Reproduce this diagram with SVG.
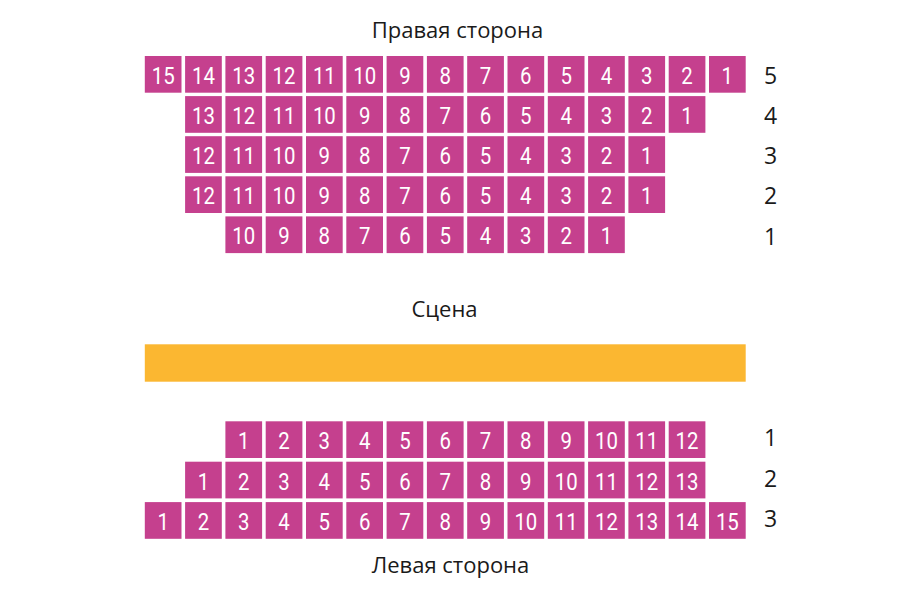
<svg xmlns="http://www.w3.org/2000/svg" width="900" height="590" viewBox="0 0 900 590">
<style>
.s{fill:#C5408E}
.n{font-family:Roboto,"Open Sans",sans-serif;font-weight:400;font-size:24px;fill:#fff;text-anchor:middle}
.t{font-family:"Open Sans","Noto Sans",sans-serif;font-size:22px;fill:#1a1a1a;text-anchor:middle}
.l{font-family:"Open Sans","Noto Sans",sans-serif;font-size:23px;fill:#1a1a1a;text-anchor:middle}
</style>
<defs>
<rect id="seat" class="s" width="36.7" height="36.7"/>
</defs>
<rect width="900" height="590" fill="#fff"/>
<g id="titles">
<text class="t" x="457.5" y="38.3">Правая сторона</text>
<text class="t" x="444.5" y="317.3">Сцена</text>
<text class="t" x="450.5" y="572.7">Левая сторона</text>
</g>
<g id="stage"><rect x="144.8" y="344.3" width="600.9" height="37.4" fill="#FBB731"/></g>
<g id="right-row5">
<g id="r5s15" transform="translate(144.8 56)"><use href="#seat"/><text class="n" x="21.6" y="28" transform="scale(0.85 1)">15</text></g>
<g id="r5s14" transform="translate(185.1 56)"><use href="#seat"/><text class="n" x="21.6" y="28" transform="scale(0.85 1)">14</text></g>
<g id="r5s13" transform="translate(225.4 56)"><use href="#seat"/><text class="n" x="21.6" y="28" transform="scale(0.85 1)">13</text></g>
<g id="r5s12" transform="translate(265.7 56)"><use href="#seat"/><text class="n" x="21.6" y="28" transform="scale(0.85 1)">12</text></g>
<g id="r5s11" transform="translate(306 56)"><use href="#seat"/><text class="n" x="21.6" y="28" transform="scale(0.85 1)">11</text></g>
<g id="r5s10" transform="translate(346.3 56)"><use href="#seat"/><text class="n" x="21.6" y="28" transform="scale(0.85 1)">10</text></g>
<g id="r5s9" transform="translate(386.6 56)"><use href="#seat"/><text class="n" x="21.6" y="28" transform="scale(0.85 1)">9</text></g>
<g id="r5s8" transform="translate(426.9 56)"><use href="#seat"/><text class="n" x="21.6" y="28" transform="scale(0.85 1)">8</text></g>
<g id="r5s7" transform="translate(467.2 56)"><use href="#seat"/><text class="n" x="21.6" y="28" transform="scale(0.85 1)">7</text></g>
<g id="r5s6" transform="translate(507.5 56)"><use href="#seat"/><text class="n" x="21.6" y="28" transform="scale(0.85 1)">6</text></g>
<g id="r5s5" transform="translate(547.8 56)"><use href="#seat"/><text class="n" x="21.6" y="28" transform="scale(0.85 1)">5</text></g>
<g id="r5s4" transform="translate(588.1 56)"><use href="#seat"/><text class="n" x="21.6" y="28" transform="scale(0.85 1)">4</text></g>
<g id="r5s3" transform="translate(628.4 56)"><use href="#seat"/><text class="n" x="21.6" y="28" transform="scale(0.85 1)">3</text></g>
<g id="r5s2" transform="translate(668.7 56)"><use href="#seat"/><text class="n" x="21.6" y="28" transform="scale(0.85 1)">2</text></g>
<g id="r5s1" transform="translate(709 56)"><use href="#seat"/><text class="n" x="21.6" y="28" transform="scale(0.85 1)">1</text></g>
</g>
<g id="right-row4">
<g id="r4s13" transform="translate(185.1 96.1)"><use href="#seat"/><text class="n" x="21.6" y="28" transform="scale(0.85 1)">13</text></g>
<g id="r4s12" transform="translate(225.4 96.1)"><use href="#seat"/><text class="n" x="21.6" y="28" transform="scale(0.85 1)">12</text></g>
<g id="r4s11" transform="translate(265.7 96.1)"><use href="#seat"/><text class="n" x="21.6" y="28" transform="scale(0.85 1)">11</text></g>
<g id="r4s10" transform="translate(306 96.1)"><use href="#seat"/><text class="n" x="21.6" y="28" transform="scale(0.85 1)">10</text></g>
<g id="r4s9" transform="translate(346.3 96.1)"><use href="#seat"/><text class="n" x="21.6" y="28" transform="scale(0.85 1)">9</text></g>
<g id="r4s8" transform="translate(386.6 96.1)"><use href="#seat"/><text class="n" x="21.6" y="28" transform="scale(0.85 1)">8</text></g>
<g id="r4s7" transform="translate(426.9 96.1)"><use href="#seat"/><text class="n" x="21.6" y="28" transform="scale(0.85 1)">7</text></g>
<g id="r4s6" transform="translate(467.2 96.1)"><use href="#seat"/><text class="n" x="21.6" y="28" transform="scale(0.85 1)">6</text></g>
<g id="r4s5" transform="translate(507.5 96.1)"><use href="#seat"/><text class="n" x="21.6" y="28" transform="scale(0.85 1)">5</text></g>
<g id="r4s4" transform="translate(547.8 96.1)"><use href="#seat"/><text class="n" x="21.6" y="28" transform="scale(0.85 1)">4</text></g>
<g id="r4s3" transform="translate(588.1 96.1)"><use href="#seat"/><text class="n" x="21.6" y="28" transform="scale(0.85 1)">3</text></g>
<g id="r4s2" transform="translate(628.4 96.1)"><use href="#seat"/><text class="n" x="21.6" y="28" transform="scale(0.85 1)">2</text></g>
<g id="r4s1" transform="translate(668.7 96.1)"><use href="#seat"/><text class="n" x="21.6" y="28" transform="scale(0.85 1)">1</text></g>
</g>
<g id="right-row3">
<g id="r3s12" transform="translate(185.1 136.2)"><use href="#seat"/><text class="n" x="21.6" y="28" transform="scale(0.85 1)">12</text></g>
<g id="r3s11" transform="translate(225.4 136.2)"><use href="#seat"/><text class="n" x="21.6" y="28" transform="scale(0.85 1)">11</text></g>
<g id="r3s10" transform="translate(265.7 136.2)"><use href="#seat"/><text class="n" x="21.6" y="28" transform="scale(0.85 1)">10</text></g>
<g id="r3s9" transform="translate(306 136.2)"><use href="#seat"/><text class="n" x="21.6" y="28" transform="scale(0.85 1)">9</text></g>
<g id="r3s8" transform="translate(346.3 136.2)"><use href="#seat"/><text class="n" x="21.6" y="28" transform="scale(0.85 1)">8</text></g>
<g id="r3s7" transform="translate(386.6 136.2)"><use href="#seat"/><text class="n" x="21.6" y="28" transform="scale(0.85 1)">7</text></g>
<g id="r3s6" transform="translate(426.9 136.2)"><use href="#seat"/><text class="n" x="21.6" y="28" transform="scale(0.85 1)">6</text></g>
<g id="r3s5" transform="translate(467.2 136.2)"><use href="#seat"/><text class="n" x="21.6" y="28" transform="scale(0.85 1)">5</text></g>
<g id="r3s4" transform="translate(507.5 136.2)"><use href="#seat"/><text class="n" x="21.6" y="28" transform="scale(0.85 1)">4</text></g>
<g id="r3s3" transform="translate(547.8 136.2)"><use href="#seat"/><text class="n" x="21.6" y="28" transform="scale(0.85 1)">3</text></g>
<g id="r3s2" transform="translate(588.1 136.2)"><use href="#seat"/><text class="n" x="21.6" y="28" transform="scale(0.85 1)">2</text></g>
<g id="r3s1" transform="translate(628.4 136.2)"><use href="#seat"/><text class="n" x="21.6" y="28" transform="scale(0.85 1)">1</text></g>
</g>
<g id="right-row2">
<g id="r2s12" transform="translate(185.1 176.3)"><use href="#seat"/><text class="n" x="21.6" y="28" transform="scale(0.85 1)">12</text></g>
<g id="r2s11" transform="translate(225.4 176.3)"><use href="#seat"/><text class="n" x="21.6" y="28" transform="scale(0.85 1)">11</text></g>
<g id="r2s10" transform="translate(265.7 176.3)"><use href="#seat"/><text class="n" x="21.6" y="28" transform="scale(0.85 1)">10</text></g>
<g id="r2s9" transform="translate(306 176.3)"><use href="#seat"/><text class="n" x="21.6" y="28" transform="scale(0.85 1)">9</text></g>
<g id="r2s8" transform="translate(346.3 176.3)"><use href="#seat"/><text class="n" x="21.6" y="28" transform="scale(0.85 1)">8</text></g>
<g id="r2s7" transform="translate(386.6 176.3)"><use href="#seat"/><text class="n" x="21.6" y="28" transform="scale(0.85 1)">7</text></g>
<g id="r2s6" transform="translate(426.9 176.3)"><use href="#seat"/><text class="n" x="21.6" y="28" transform="scale(0.85 1)">6</text></g>
<g id="r2s5" transform="translate(467.2 176.3)"><use href="#seat"/><text class="n" x="21.6" y="28" transform="scale(0.85 1)">5</text></g>
<g id="r2s4" transform="translate(507.5 176.3)"><use href="#seat"/><text class="n" x="21.6" y="28" transform="scale(0.85 1)">4</text></g>
<g id="r2s3" transform="translate(547.8 176.3)"><use href="#seat"/><text class="n" x="21.6" y="28" transform="scale(0.85 1)">3</text></g>
<g id="r2s2" transform="translate(588.1 176.3)"><use href="#seat"/><text class="n" x="21.6" y="28" transform="scale(0.85 1)">2</text></g>
<g id="r2s1" transform="translate(628.4 176.3)"><use href="#seat"/><text class="n" x="21.6" y="28" transform="scale(0.85 1)">1</text></g>
</g>
<g id="right-row1">
<g id="r1s10" transform="translate(225.4 216.4)"><use href="#seat"/><text class="n" x="21.6" y="28" transform="scale(0.85 1)">10</text></g>
<g id="r1s9" transform="translate(265.7 216.4)"><use href="#seat"/><text class="n" x="21.6" y="28" transform="scale(0.85 1)">9</text></g>
<g id="r1s8" transform="translate(306 216.4)"><use href="#seat"/><text class="n" x="21.6" y="28" transform="scale(0.85 1)">8</text></g>
<g id="r1s7" transform="translate(346.3 216.4)"><use href="#seat"/><text class="n" x="21.6" y="28" transform="scale(0.85 1)">7</text></g>
<g id="r1s6" transform="translate(386.6 216.4)"><use href="#seat"/><text class="n" x="21.6" y="28" transform="scale(0.85 1)">6</text></g>
<g id="r1s5" transform="translate(426.9 216.4)"><use href="#seat"/><text class="n" x="21.6" y="28" transform="scale(0.85 1)">5</text></g>
<g id="r1s4" transform="translate(467.2 216.4)"><use href="#seat"/><text class="n" x="21.6" y="28" transform="scale(0.85 1)">4</text></g>
<g id="r1s3" transform="translate(507.5 216.4)"><use href="#seat"/><text class="n" x="21.6" y="28" transform="scale(0.85 1)">3</text></g>
<g id="r1s2" transform="translate(547.8 216.4)"><use href="#seat"/><text class="n" x="21.6" y="28" transform="scale(0.85 1)">2</text></g>
<g id="r1s1" transform="translate(588.1 216.4)"><use href="#seat"/><text class="n" x="21.6" y="28" transform="scale(0.85 1)">1</text></g>
</g>
<g id="left-row1">
<g id="l1s1" transform="translate(225.4 421.3)"><use href="#seat"/><text class="n" x="21.6" y="28" transform="scale(0.85 1)">1</text></g>
<g id="l1s2" transform="translate(265.7 421.3)"><use href="#seat"/><text class="n" x="21.6" y="28" transform="scale(0.85 1)">2</text></g>
<g id="l1s3" transform="translate(306 421.3)"><use href="#seat"/><text class="n" x="21.6" y="28" transform="scale(0.85 1)">3</text></g>
<g id="l1s4" transform="translate(346.3 421.3)"><use href="#seat"/><text class="n" x="21.6" y="28" transform="scale(0.85 1)">4</text></g>
<g id="l1s5" transform="translate(386.6 421.3)"><use href="#seat"/><text class="n" x="21.6" y="28" transform="scale(0.85 1)">5</text></g>
<g id="l1s6" transform="translate(426.9 421.3)"><use href="#seat"/><text class="n" x="21.6" y="28" transform="scale(0.85 1)">6</text></g>
<g id="l1s7" transform="translate(467.2 421.3)"><use href="#seat"/><text class="n" x="21.6" y="28" transform="scale(0.85 1)">7</text></g>
<g id="l1s8" transform="translate(507.5 421.3)"><use href="#seat"/><text class="n" x="21.6" y="28" transform="scale(0.85 1)">8</text></g>
<g id="l1s9" transform="translate(547.8 421.3)"><use href="#seat"/><text class="n" x="21.6" y="28" transform="scale(0.85 1)">9</text></g>
<g id="l1s10" transform="translate(588.1 421.3)"><use href="#seat"/><text class="n" x="21.6" y="28" transform="scale(0.85 1)">10</text></g>
<g id="l1s11" transform="translate(628.4 421.3)"><use href="#seat"/><text class="n" x="21.6" y="28" transform="scale(0.85 1)">11</text></g>
<g id="l1s12" transform="translate(668.7 421.3)"><use href="#seat"/><text class="n" x="21.6" y="28" transform="scale(0.85 1)">12</text></g>
</g>
<g id="left-row2">
<g id="l2s1" transform="translate(185.1 461.7)"><use href="#seat"/><text class="n" x="21.6" y="28" transform="scale(0.85 1)">1</text></g>
<g id="l2s2" transform="translate(225.4 461.7)"><use href="#seat"/><text class="n" x="21.6" y="28" transform="scale(0.85 1)">2</text></g>
<g id="l2s3" transform="translate(265.7 461.7)"><use href="#seat"/><text class="n" x="21.6" y="28" transform="scale(0.85 1)">3</text></g>
<g id="l2s4" transform="translate(306 461.7)"><use href="#seat"/><text class="n" x="21.6" y="28" transform="scale(0.85 1)">4</text></g>
<g id="l2s5" transform="translate(346.3 461.7)"><use href="#seat"/><text class="n" x="21.6" y="28" transform="scale(0.85 1)">5</text></g>
<g id="l2s6" transform="translate(386.6 461.7)"><use href="#seat"/><text class="n" x="21.6" y="28" transform="scale(0.85 1)">6</text></g>
<g id="l2s7" transform="translate(426.9 461.7)"><use href="#seat"/><text class="n" x="21.6" y="28" transform="scale(0.85 1)">7</text></g>
<g id="l2s8" transform="translate(467.2 461.7)"><use href="#seat"/><text class="n" x="21.6" y="28" transform="scale(0.85 1)">8</text></g>
<g id="l2s9" transform="translate(507.5 461.7)"><use href="#seat"/><text class="n" x="21.6" y="28" transform="scale(0.85 1)">9</text></g>
<g id="l2s10" transform="translate(547.8 461.7)"><use href="#seat"/><text class="n" x="21.6" y="28" transform="scale(0.85 1)">10</text></g>
<g id="l2s11" transform="translate(588.1 461.7)"><use href="#seat"/><text class="n" x="21.6" y="28" transform="scale(0.85 1)">11</text></g>
<g id="l2s12" transform="translate(628.4 461.7)"><use href="#seat"/><text class="n" x="21.6" y="28" transform="scale(0.85 1)">12</text></g>
<g id="l2s13" transform="translate(668.7 461.7)"><use href="#seat"/><text class="n" x="21.6" y="28" transform="scale(0.85 1)">13</text></g>
</g>
<g id="left-row3">
<g id="l3s1" transform="translate(144.8 502.1)"><use href="#seat"/><text class="n" x="21.6" y="28" transform="scale(0.85 1)">1</text></g>
<g id="l3s2" transform="translate(185.1 502.1)"><use href="#seat"/><text class="n" x="21.6" y="28" transform="scale(0.85 1)">2</text></g>
<g id="l3s3" transform="translate(225.4 502.1)"><use href="#seat"/><text class="n" x="21.6" y="28" transform="scale(0.85 1)">3</text></g>
<g id="l3s4" transform="translate(265.7 502.1)"><use href="#seat"/><text class="n" x="21.6" y="28" transform="scale(0.85 1)">4</text></g>
<g id="l3s5" transform="translate(306 502.1)"><use href="#seat"/><text class="n" x="21.6" y="28" transform="scale(0.85 1)">5</text></g>
<g id="l3s6" transform="translate(346.3 502.1)"><use href="#seat"/><text class="n" x="21.6" y="28" transform="scale(0.85 1)">6</text></g>
<g id="l3s7" transform="translate(386.6 502.1)"><use href="#seat"/><text class="n" x="21.6" y="28" transform="scale(0.85 1)">7</text></g>
<g id="l3s8" transform="translate(426.9 502.1)"><use href="#seat"/><text class="n" x="21.6" y="28" transform="scale(0.85 1)">8</text></g>
<g id="l3s9" transform="translate(467.2 502.1)"><use href="#seat"/><text class="n" x="21.6" y="28" transform="scale(0.85 1)">9</text></g>
<g id="l3s10" transform="translate(507.5 502.1)"><use href="#seat"/><text class="n" x="21.6" y="28" transform="scale(0.85 1)">10</text></g>
<g id="l3s11" transform="translate(547.8 502.1)"><use href="#seat"/><text class="n" x="21.6" y="28" transform="scale(0.85 1)">11</text></g>
<g id="l3s12" transform="translate(588.1 502.1)"><use href="#seat"/><text class="n" x="21.6" y="28" transform="scale(0.85 1)">12</text></g>
<g id="l3s13" transform="translate(628.4 502.1)"><use href="#seat"/><text class="n" x="21.6" y="28" transform="scale(0.85 1)">13</text></g>
<g id="l3s14" transform="translate(668.7 502.1)"><use href="#seat"/><text class="n" x="21.6" y="28" transform="scale(0.85 1)">14</text></g>
<g id="l3s15" transform="translate(709 502.1)"><use href="#seat"/><text class="n" x="21.6" y="28" transform="scale(0.85 1)">15</text></g>
</g>
<g id="row-labels">
<text class="l" x="770.5" y="84.3">5</text>
<text class="l" x="770.5" y="124">4</text>
<text class="l" x="770.5" y="164">3</text>
<text class="l" x="770.5" y="204.3">2</text>
<text class="l" x="770.5" y="245">1</text>
<text class="l" x="770.5" y="446">1</text>
<text class="l" x="770.5" y="486.5">2</text>
<text class="l" x="770.5" y="527">3</text>
</g>
<g id="connectors"/>
</svg>
